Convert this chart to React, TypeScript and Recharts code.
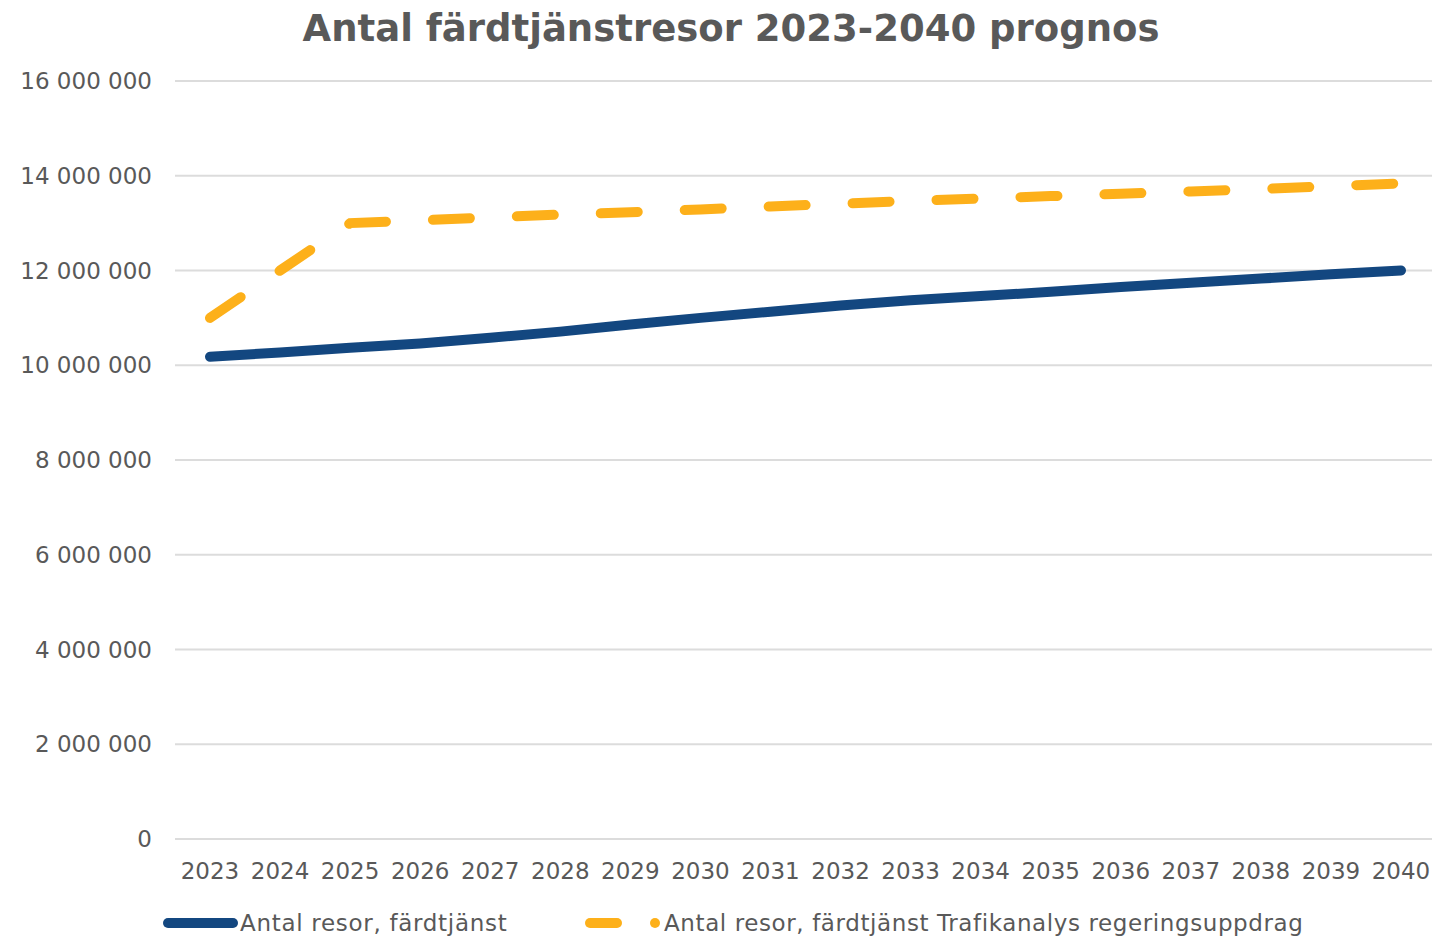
import React from "react";
import { LineChart, Line, XAxis, YAxis, CartesianGrid, Legend } from "recharts";

const years = [
  "2023", "2024", "2025", "2026", "2027", "2028", "2029", "2030", "2031",
  "2032", "2033", "2034", "2035", "2036", "2037", "2038", "2039", "2040",
];

// Antal resor, färdtjänst
const fardtjanst = [
  10180000, 10270000, 10370000, 10460000, 10580000, 10710000, 10860000, 11000000, 11130000,
  11260000, 11370000, 11460000, 11550000, 11650000, 11740000, 11830000, 11920000, 12000000,
];

// Antal resor, färdtjänst Trafikanalys regeringsuppdrag
const trafikanalys = [
  11000000, 12000000, 13000000, 13060000, 13120000, 13180000, 13230000, 13290000, 13350000,
  13410000, 13470000, 13520000, 13570000, 13620000, 13670000, 13720000, 13780000, 13840000,
];

const yTicks = [0, 2000000, 4000000, 6000000, 8000000, 10000000, 12000000, 14000000, 16000000];

const data = years.map((year, i) => ({
  year,
  fardtjanst: fardtjanst[i],
  trafikanalys: trafikanalys[i],
}));

const BLUE = "#134780";
const ORANGE = "#fdb01a";
const TEXT = "#595959";
const FONT = "'DejaVu Sans', Verdana, sans-serif";

const fmt = (v: number) => String(v).replace(/\B(?=(\d{3})+(?!\d))/g, " ");

const tickStyle = { fill: TEXT, fontSize: 23, fontFamily: FONT };

function ChartLegend() {
  return (
    <svg width={1432} height={40} style={{ display: "block" }}>
      <line x1={168} y1={26} x2={233} y2={26} stroke={BLUE} strokeWidth={10} strokeLinecap="round" />
      <text x={240} y={34} fill={TEXT} fontSize={23} fontFamily={FONT} letterSpacing={0.7}>
        Antal resor, färdtjänst
      </text>
      <line x1={590} y1={26} x2={617} y2={26} stroke={ORANGE} strokeWidth={10} strokeLinecap="round" />
      <circle cx={655} cy={26} r={5} fill={ORANGE} />
      <text x={664} y={34} fill={TEXT} fontSize={23} fontFamily={FONT} letterSpacing={0.6}>
        Antal resor, färdtjänst Trafikanalys regeringsuppdrag
      </text>
    </svg>
  );
}

export default function App() {
  return (
    <div style={{ position: "relative", width: 1432, height: 937, background: "#fff" }}>
      <style>{`body{margin:0}`}</style>
      <div
        style={{
          position: "absolute",
          top: 10,
          left: 15,
          width: 1432,
          textAlign: "center",
          fontFamily: FONT,
          fontWeight: "bold",
          fontSize: 37,
          lineHeight: "37px",
          color: TEXT,
        }}
      >
        Antal färdtjänstresor 2023-2040 prognos
      </div>
      <LineChart width={1432} height={937} data={data} margin={{ top: 81, right: 0, left: 0, bottom: 0 }}>
        <CartesianGrid stroke="#dcdcdc" strokeWidth={2} vertical={false} />
        <XAxis
          dataKey="year"
          tick={tickStyle}
          tickLine={false}
          axisLine={false}
          tickSize={0}
          tickMargin={24}
          height={58}
          interval={0}
          padding={{ left: 35, right: 31 }}
        />
        <YAxis
          domain={[0, 16000000]}
          ticks={yTicks}
          tickFormatter={fmt}
          tick={tickStyle}
          tickLine={false}
          axisLine={false}
          tickSize={0}
          tickMargin={23}
          width={175}
        />
        <Legend
          verticalAlign="bottom"
          content={() => <ChartLegend />}
          wrapperStyle={{ left: 0, width: 1432, height: 40 }}
        />
        <Line
          type="linear"
          dataKey="fardtjanst"
          name="Antal resor, färdtjänst"
          stroke={BLUE}
          strokeWidth={10}
          strokeLinecap="round"
          dot={false}
          isAnimationActive={false}
        />
        <Line
          type="linear"
          dataKey="trafikanalys"
          name="Antal resor, färdtjänst Trafikanalys regeringsuppdrag"
          stroke={ORANGE}
          strokeWidth={10}
          strokeDasharray="37 47"
          strokeLinecap="round"
          dot={false}
          isAnimationActive={false}
        />
      </LineChart>
    </div>
  );
}
